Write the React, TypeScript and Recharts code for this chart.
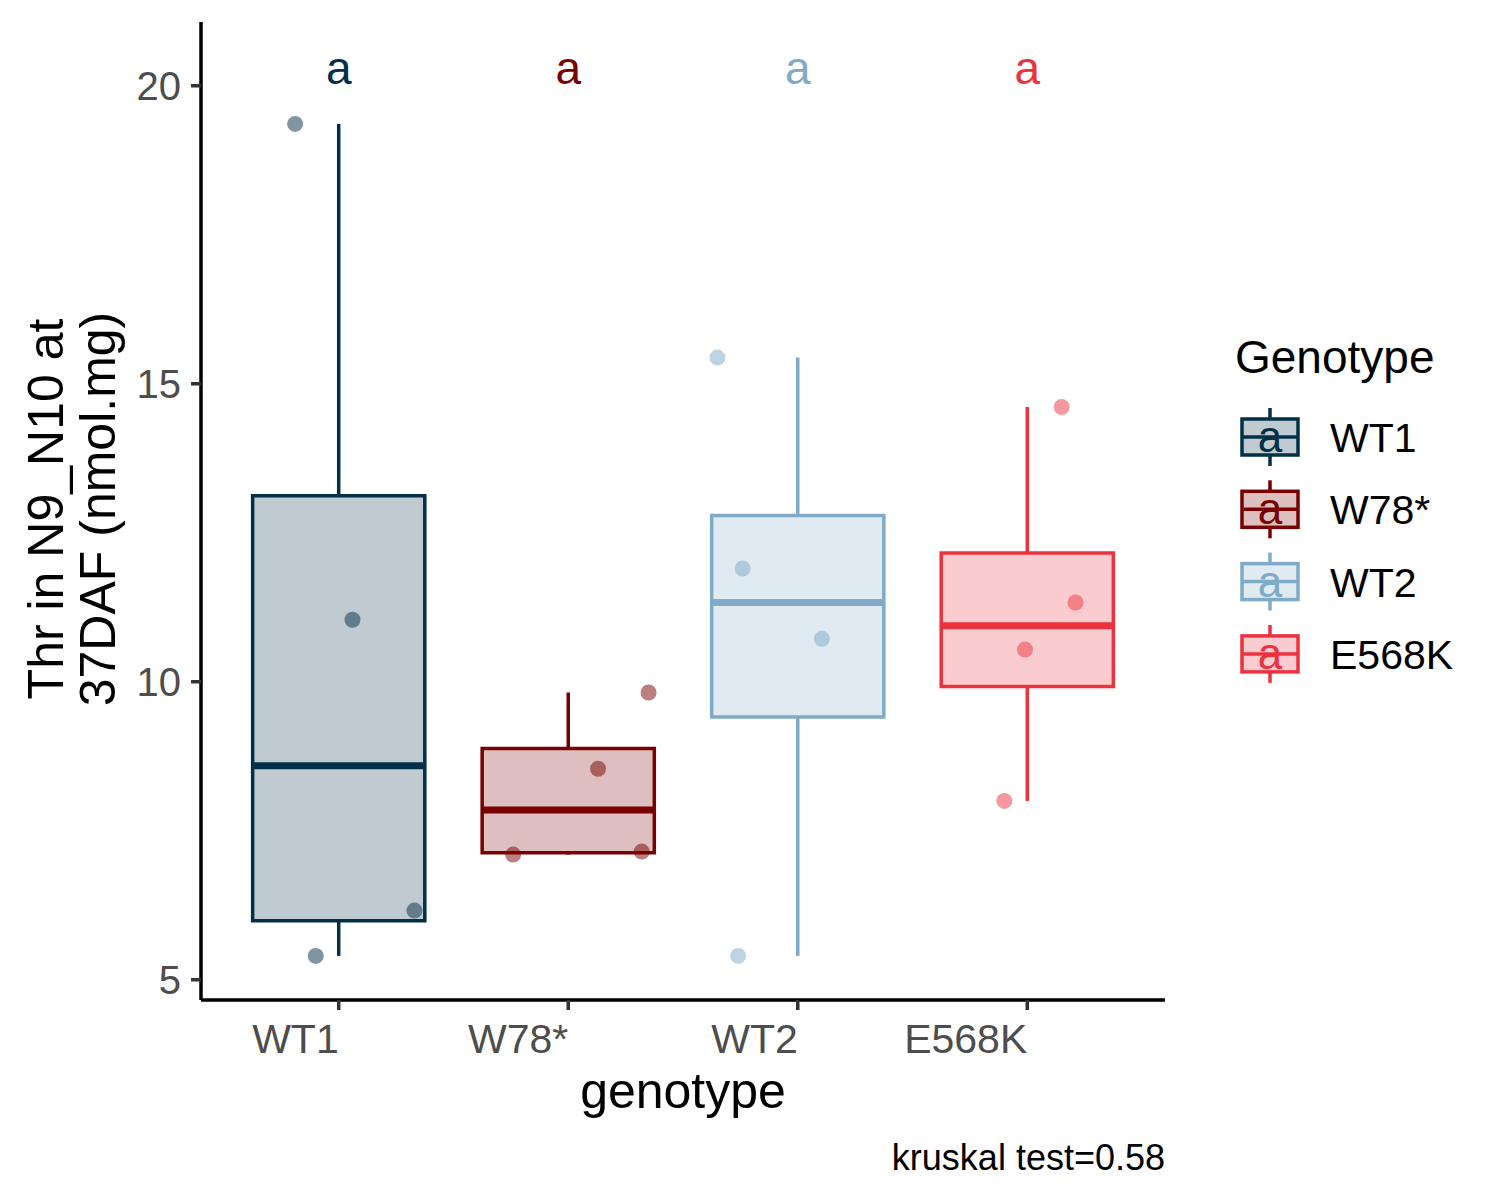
import { ComposedChart, ReferenceArea, ReferenceLine, Scatter, XAxis, YAxis } from 'recharts';

const genotypes = ['WT1', 'W78*', 'WT2', 'E568K'];
const colors = ['#023047', '#780000', '#7FAAC8', '#EC323F'];

// box statistics
const lower = [5.4, 7.1, 5.4, 8.0];
const q1 = [5.99, 7.13, 9.41, 9.92];
const median = [8.59, 7.85, 11.33, 10.94];
const q3 = [13.12, 8.88, 12.79, 12.16];
const upper = [19.36, 9.82, 15.44, 14.61];

// raw points and their horizontal jitter (category units)
const pointValues = [
  [19.36, 11.04, 6.16, 5.4],
  [9.82, 8.54, 7.15, 7.1],
  [15.44, 11.9, 10.72, 5.4],
  [14.61, 11.33, 10.54, 8.0],
];
const jitter = [
  [-0.19, 0.06, 0.33, -0.1],
  [0.35, 0.13, 0.32, -0.24],
  [-0.35, -0.24, 0.105, -0.26],
  [0.15, 0.21, -0.01, -0.1],
];

const letters = ['a', 'a', 'a', 'a'];
const letterY = 20.23;

const yTicks = [5, 10, 15, 20];
const xTicks = [1, 2, 3, 4];

const FONT = '"Liberation Sans", Arial, sans-serif';
const HALF = 0.375;
const LW = 3.5;

function XTick({ x, y, payload }: any) {
  const label = genotypes[Math.round(payload.value) - 1];
  return (
    <text x={x} y={y} dy={43} textAnchor="end" fontSize={41} fill="#4D4D4D" fontFamily={FONT}>
      {label}
    </text>
  );
}

function YTick({ x, y, payload }: any) {
  return (
    <text x={x} y={y} dx={-10} dy={14} textAnchor="end" fontSize={40} fill="#4D4D4D" fontFamily={FONT}>
      {payload.value}
    </text>
  );
}

function LegendKey({ cy, color, letter }: { cy: number; color: string; letter: string }) {
  const cx = 1270;
  return (
    <g>
      <line x1={cx} x2={cx} y1={cy - 29} y2={cy - 18} stroke={color} strokeWidth={LW} />
      <line x1={cx} x2={cx} y1={cy + 18} y2={cy + 29} stroke={color} strokeWidth={LW} />
      <rect x={cx - 28} y={cy - 18} width={56} height={36} fill={color} fillOpacity={0.25} stroke={color} strokeWidth={LW} />
      <line x1={cx - 28} x2={cx + 28} y1={cy} y2={cy} stroke={color} strokeWidth={LW} />
      <text x={cx} y={cy + 15} textAnchor="middle" fontSize={44} fill={color} fontFamily={FONT}>
        {letter}
      </text>
    </g>
  );
}

export default function App() {
  return (
    <div style={{ position: 'absolute', left: 0, top: 0, width: 1500, height: 1200, background: '#fff' }}>
      <ComposedChart width={1500} height={1200} margin={{ top: 22, right: 335, bottom: 0, left: 0 }}>
        <XAxis
          type="number"
          dataKey="x"
          domain={[0.4, 4.6]}
          ticks={xTicks}
          height={200}
          tick={<XTick />}
          tickSize={10}
          tickMargin={0}
          axisLine={{ stroke: '#000', strokeWidth: LW }}
          tickLine={{ stroke: '#333', strokeWidth: LW }}
          allowDataOverflow
        />
        <YAxis
          type="number"
          dataKey="y"
          domain={[4.66, 21.07]}
          ticks={yTicks}
          width={201}
          tick={<YTick />}
          tickSize={10}
          tickMargin={0}
          axisLine={{ stroke: '#000', strokeWidth: LW }}
          tickLine={{ stroke: '#333', strokeWidth: LW }}
          allowDataOverflow
        />
        {genotypes.map((g, i) => (
          <ReferenceLine
            key={`wu-${g}`}
            segment={[
              { x: i + 1, y: q3[i] },
              { x: i + 1, y: upper[i] },
            ]}
            stroke={colors[i]}
            strokeWidth={LW}
          />
        ))}
        {genotypes.map((g, i) => (
          <ReferenceLine
            key={`wl-${g}`}
            segment={[
              { x: i + 1, y: lower[i] },
              { x: i + 1, y: q1[i] },
            ]}
            stroke={colors[i]}
            strokeWidth={LW}
          />
        ))}
        {genotypes.map((g, i) => (
          <ReferenceArea
            key={`box-${g}`}
            x1={i + 1 - HALF}
            x2={i + 1 + HALF}
            y1={q1[i]}
            y2={q3[i]}
            fill={colors[i]}
            fillOpacity={0.25}
            stroke={colors[i]}
            strokeWidth={LW}
          />
        ))}
        {genotypes.map((g, i) => (
          <ReferenceLine
            key={`med-${g}`}
            segment={[
              { x: i + 1 - HALF, y: median[i] },
              { x: i + 1 + HALF, y: median[i] },
            ]}
            stroke={colors[i]}
            strokeWidth={LW * 2}
          />
        ))}
        {genotypes.map((g, i) => (
          <Scatter
            key={`pts-${g}`}
            data={pointValues[i].map((v, j) => ({ x: i + 1 + jitter[i][j], y: v }))}
            isAnimationActive={false}
            shape={(p: any) => <circle cx={p.cx} cy={p.cy} r={8} fill={colors[i]} fillOpacity={0.5} />}
          />
        ))}
        <Scatter
          data={letters.map((l, i) => ({ x: i + 1, y: letterY, label: l }))}
          isAnimationActive={false}
          shape={(p: any) => (
            <text
              x={p.cx}
              y={p.cy}
              dy={12}
              textAnchor="middle"
              fontSize={46}
              fill={colors[Math.round(p.payload.x) - 1]}
              fontFamily={FONT}
            >
              {p.payload.label}
            </text>
          )}
        />
      </ComposedChart>
      <svg
        width={1500}
        height={1200}
        style={{ position: 'absolute', left: 0, top: 0, pointerEvents: 'none' }}
        fontFamily={FONT}
      >
        <g transform="translate(63, 509) rotate(-90)">
          <text x={0} y={0} textAnchor="middle" fontSize={50} fill="#000">
            Thr in N9_N10 at
          </text>
          <text x={0} y={52} textAnchor="middle" fontSize={50} fill="#000">
            37DAF (nmol.mg)
          </text>
        </g>
        <text x={683} y={1108} textAnchor="middle" fontSize={50} fill="#000">
          genotype
        </text>
        <text x={1165} y={1170} textAnchor="end" fontSize={36} fill="#000">
          kruskal test=0.58
        </text>
        <text x={1235} y={373} fontSize={46} fill="#000">
          Genotype
        </text>
        {genotypes.map((g, i) => {
          const cy = 437 + i * 72.3;
          return (
            <g key={`leg-${g}`}>
              <LegendKey cy={cy} color={colors[i]} letter={letters[i]} />
              <text x={1330} y={cy + 15} fontSize={41} fill="#000">
                {g}
              </text>
            </g>
          );
        })}
      </svg>
    </div>
  );
}
